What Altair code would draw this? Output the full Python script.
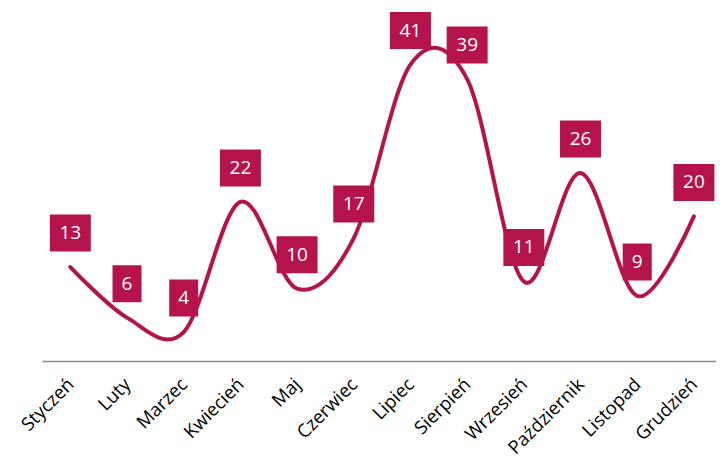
import json
import altair as alt
import pandas as pd

months = ["Styczeń", "Luty", "Marzec", "Kwiecień", "Maj", "Czerwiec",
          "Lipiec", "Sierpień", "Wrzesień", "Październik", "Listopad", "Grudzień"]
values = [13, 6, 4, 22, 10, 17, 41, 39, 11, 26, 9, 20]

COLOR = "#B5134B"
PX_X = 56.7      # pixels per category step
PX_Y = 7.23      # pixels per value unit

df = pd.DataFrame({"i": list(range(len(months))), "month": months, "value": values})

x_scale = alt.Scale(domain=[-0.5, 11.39], nice=False, zero=False)
y_scale = alt.Scale(domain=[0, 48], nice=False)

label_expr = json.dumps(months, ensure_ascii=False) + "[datum.value]"

base = alt.Chart(df)

line = base.mark_line(interpolate="cardinal", strokeWidth=4, color=COLOR,
                      strokeCap="round", clip=False).encode(
    x=alt.X("i:Q", scale=x_scale,
            axis=alt.Axis(title=None, values=list(range(len(months))),
                          labelExpr=label_expr, labelAngle=-45, ticks=False,
                          grid=False, domainColor="#8c8c8c", domainWidth=1.5,
                          labelFont="Open Sans", labelFontSize=18.5, labelColor="#000000",
                          labelAlign="right", labelBaseline="middle",
                          labelPadding=20,
                          labelOverlap=False, labelBound=False)),
    y=alt.Y("value:Q", scale=y_scale, axis=None),
)

boxes = base.transform_calculate(
    w="(datum.value >= 10 ? 41 : 29) / 2 / " + str(PX_X),
    x1="datum.i - datum.w",
    x2="datum.i + datum.w",
    y1="datum.value + (34 - 18.5) / " + str(PX_Y),
    y2="datum.value + (34 + 18.5) / " + str(PX_Y),
).mark_rect(color=COLOR, clip=False).encode(
    x=alt.X("x1:Q", scale=x_scale),
    x2="x2:Q",
    y=alt.Y("y1:Q", scale=y_scale),
    y2="y2:Q",
)

texts = base.mark_text(color="white", font="Open Sans", fontSize=19, dy=-34,
                       baseline="middle", align="center", clip=False).encode(
    x=alt.X("i:Q", scale=x_scale),
    y=alt.Y("value:Q", scale=y_scale),
    text="value:Q",
)

chart = alt.layer(line, boxes, texts).properties(
    width=674, height=347,
    padding={"left": 34, "top": 6, "right": 0, "bottom": 99},
    autosize=alt.AutoSizeParams(type="none"),
    background="white",
).configure_view(stroke=None)

chart.save("out.html", embed_options={"renderer": "svg", "actions": False})
